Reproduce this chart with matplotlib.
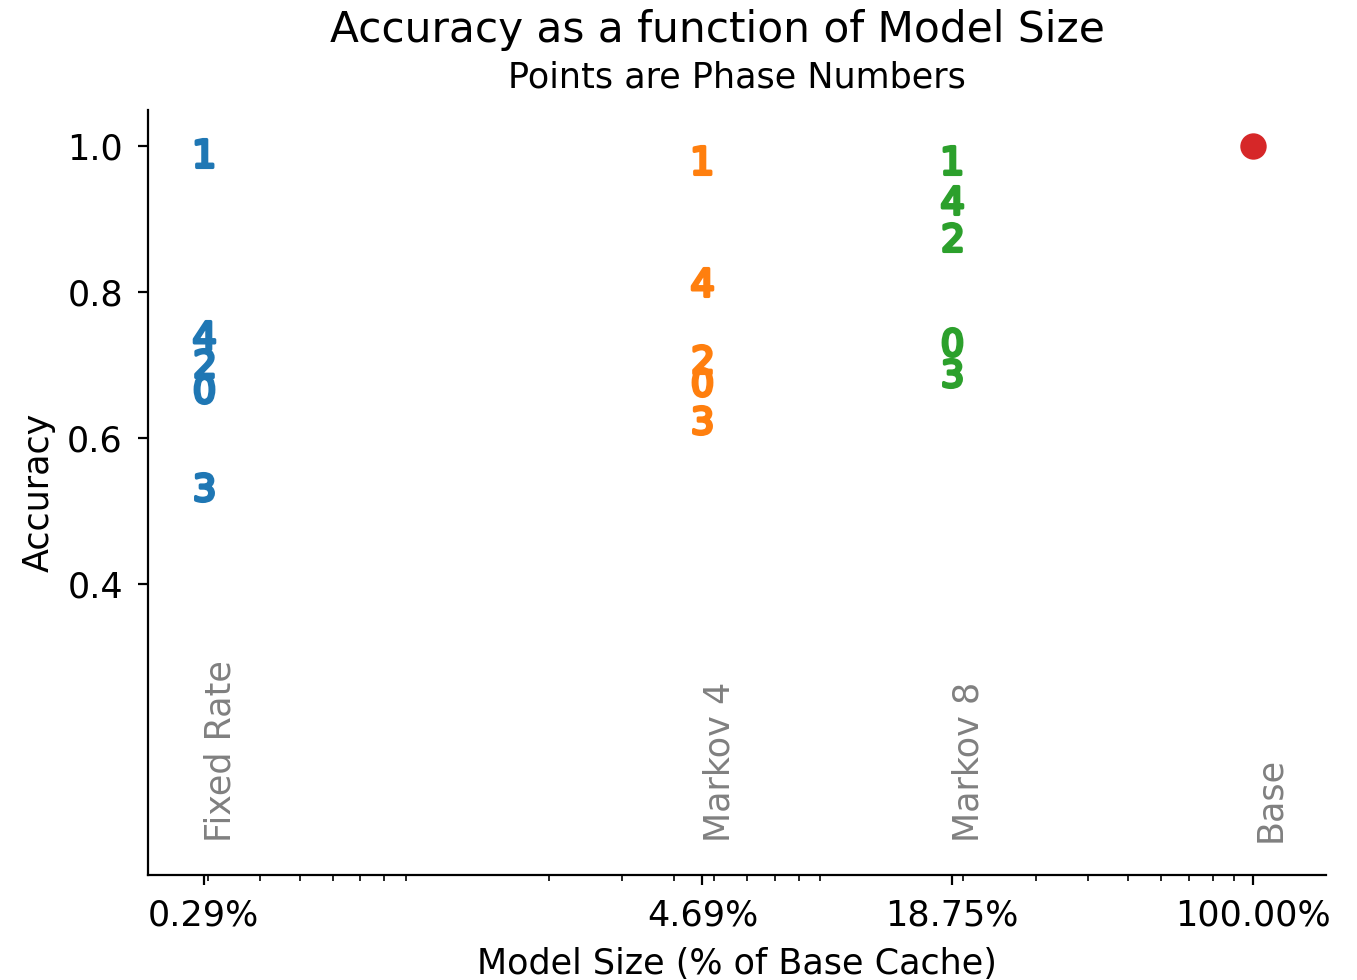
import matplotlib
matplotlib.use("Agg")
import matplotlib.pyplot as plt

# Model sizes in percent of the base cache
methods = ["Fixed Rate", "Markov 4", "Markov 8"]
sizes = [0.29296875, 4.6875, 18.75]
phases = [0, 1, 2, 3, 4]

# Accuracy per phase, one list per method (index = phase number)
acc_fixed_rate = [0.667, 0.990, 0.703, 0.532, 0.741]
acc_markov4 = [0.677, 0.981, 0.708, 0.625, 0.814]
acc_markov8 = [0.732, 0.981, 0.875, 0.689, 0.926]

base_label = "Base"
base_size = 100.0
base_acc = 1.0

tick_sizes = sizes + [base_size]
tick_labels = ["0.29%", "4.69%", "18.75%", "100.00%"]

colors = ["#1f77b4", "#ff7f0e", "#2ca02c"]
FS = 12.6

fig = plt.figure(figsize=(6.785, 4.9), dpi=200)
ax = fig.add_axes([0.109, 0.107, 0.868, 0.781])

for name, size, accs, color in zip(methods, sizes, [acc_fixed_rate, acc_markov4, acc_markov8], colors):
    for phase, acc in zip(phases, accs):
        ax.plot(size, acc, marker=f"${phase}$", color=color, markersize=10,
                markeredgewidth=1.2, linestyle="none")
    ax.text(size, 0.045, name, rotation=90, color="gray", fontsize=FS,
            ha="left", va="bottom")

ax.plot(base_size, base_acc, marker="o", color="#d62728", markersize=8.5,
        linestyle="none")
ax.text(base_size, 0.045, base_label, rotation=90, color="gray", fontsize=FS,
        ha="left", va="bottom")

ax.set_xscale("log")
ax.set_xlim(0.2147, 150)
ax.set_ylim(0, 1.05)
ax.set_xticks(tick_sizes)
ax.set_xticklabels(tick_labels)
ax.set_yticks([0.4, 0.6, 0.8, 1.0])
ax.tick_params(labelsize=FS)
ax.tick_params(axis="y", pad=5.5)
ax.tick_params(axis="x", which="major", pad=5)
ax.spines["top"].set_visible(False)
ax.spines["right"].set_visible(False)

ax.set_xlabel("Model Size (% of Base Cache)", fontsize=FS, labelpad=5)
ax.set_ylabel("Accuracy", fontsize=FS, labelpad=4)
ax.set_title("Points are Phase Numbers", fontsize=FS, pad=8)
fig.suptitle("Accuracy as a function of Model Size", fontsize=15.2, x=0.529, y=0.991)

fig.savefig("out.png", dpi=200)
